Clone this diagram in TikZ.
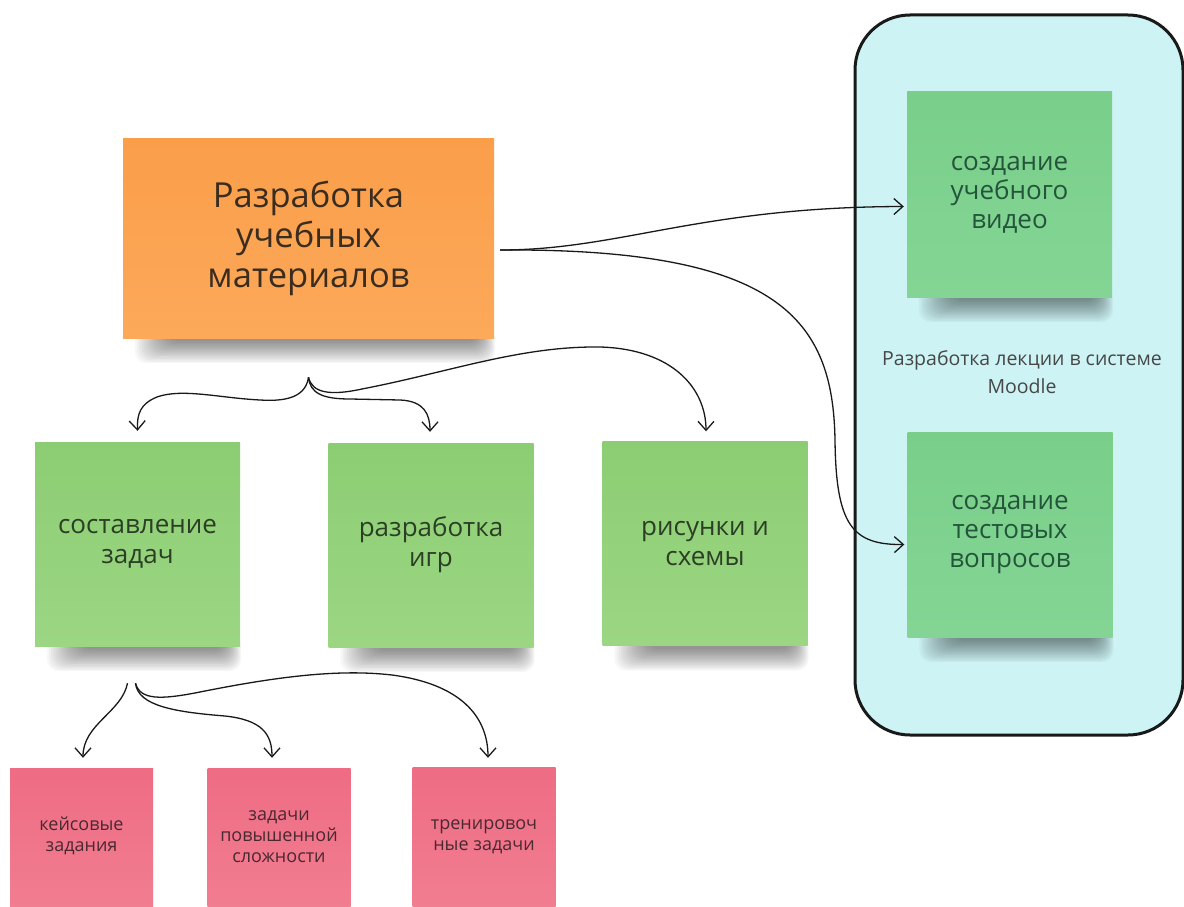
\documentclass[tikz,border=0pt]{standalone}
\usepackage{fontspec}
\setmainfont{Open Sans}
\usetikzlibrary{arrows.meta,calc,backgrounds}

\definecolor{orangenote}{HTML}{FA9E4A}
\definecolor{orangelow}{HTML}{FCA95A}
\definecolor{greennote}{HTML}{8CCD73}
\definecolor{greenlow}{HTML}{9CD683}
\definecolor{mintnote}{HTML}{79CF89}
\definecolor{mintlow}{HTML}{84D595}
\definecolor{pinknote}{HTML}{EE6C84}
\definecolor{pinklow}{HTML}{F28294}
\definecolor{panelfill}{HTML}{CDF3F4}
\definecolor{inkorange}{HTML}{3A2C1E}
\definecolor{inkgreen}{HTML}{2A3F24}
\definecolor{inkmint}{HTML}{23553A}
\definecolor{inkpink}{HTML}{4A2830}

\pgfdeclarelayer{shade}
\pgfsetlayers{background,shade,main}

% soft shadow under the lower edge of a sticky note
\newcommand\noteshadow[1]{%
  \foreach \k in {0,...,15}{%
    \fill[black,opacity=0.03,rounded corners=12pt]
      ($(#1.south west)+(12+\k*2.2,-10)$) rectangle
      ($(#1.south east)+(1-\k*1.1,25-\k*1.45)$);
  }}

\tikzset{
  sticky/.style={draw=none, inner sep=0pt, align=center},
  bignote/.style={sticky, minimum width=371pt, minimum height=200pt,
    top color=orangenote, bottom color=orangelow, text=inkorange,
    font=\fontsize{34.5}{40}\selectfont},
  greenbox/.style={sticky, minimum width=205pt, minimum height=204pt,
    top color=greennote, bottom color=greenlow, text=inkgreen,
    font=\fontsize{26}{30}\selectfont},
  mintbox/.style={sticky, minimum width=205pt, minimum height=205pt,
    top color=mintnote, bottom color=mintlow, text=inkmint,
    font=\fontsize{26}{29}\selectfont},
  pinkbox/.style={sticky, minimum width=143pt, minimum height=180pt,
    top color=pinknote, bottom color=pinklow},
  pinktext/.style={align=center, inner sep=0pt, text=inkpink,
    font=\fontsize{18}{21}\selectfont},
  link/.style={line width=1.3pt, draw=black!90,
    -{Straight Barb[length=9pt,width=16pt,line width=1.3pt]}}
}

\begin{document}
\begin{tikzpicture}[x=1pt,y=-1pt]
\useasboundingbox (0,0) rectangle (1184,907);
\clip (0,0) rectangle (1184,907);

\begin{pgfonlayer}{background}
  \fill[white] (0,0) rectangle (1184,907);
  % container on the right
  \node[draw=black!90, line width=3pt, fill=panelfill, rounded corners=55pt,
        minimum width=328pt, minimum height=720pt, inner sep=0pt]
        (panel) at (1019,375) {};
\end{pgfonlayer}
\node[text=black!72, align=center, font=\fontsize{19.5}{28}\selectfont]
      (moodle) at (1022,372) {Разработка лекции в системе\\Moodle};

% sticky notes
\node[bignote]  (main)  at (308.5,238) {Разработка\\учебных\\материалов};
\node[greenbox] (tasks) at (137.5,544) {составление\\задач};
\node[greenbox] (games) at (431,545)   {разработка\\игр};
\node[greenbox] (pics)  at (705,543.5) {рисунки и\\схемы};
\node[mintbox]  (video) at (1009.5,194.5) {создание\\учебного\\видео};
\node[mintbox]  (quiz)  at (1010,534.5)   {создание\\тестовых\\вопросов};
\node[pinkbox]  (cases) at (81.5,858)  {};
\node[pinkbox]  (hard)  at (279,858)   {};
\node[pinkbox]  (drill) at (484,857)   {};
\node[pinktext] (casesT) at (81.5,836)  {кейсовые\\задания};
\node[pinktext] (hardT)  at (279,837)   {задачи\\повышенной\\сложности};
\node[pinktext] (drillT) at (484,837)   {тренировоч\\ные задачи};

\begin{pgfonlayer}{shade}
  \foreach \n in {main,tasks,games,pics,video,quiz}{\noteshadow{\n}}
\end{pgfonlayer}

% branch points of the connectors
\coordinate (mainout) at ($(main.east)+(6,12)$);
\coordinate (fork)    at ($(main.south)+(0,39)$);
\coordinate (forkL)   at ($(tasks.south)+(-10,37)$);
\coordinate (forkR)   at ($(tasks.south)+(-2,37)$);

% from the orange note to the Moodle notes
\draw[link] (mainout) .. controls (620,250) and (700,207) .. ($(video.west)+(-3,12)$);
\draw[link] (mainout) .. controls (780,248) and (833,320) .. (835,440)
            .. controls (836,525) and (852,545) .. ($(quiz.west)+(-3,10)$);

% brace-shaped split towards the green notes
\draw[link] (fork) .. controls (306,395) and (290,402) .. (260,400)
            .. controls (220,398) and (182,388) .. (157,397)
            .. controls (140,404) and (137,414) .. ($(tasks.north)+(0,-11)$);
\draw[link] (fork) .. controls (310,393) and (322,399) .. (350,399)
            -- (400,400) .. controls (424,401) and (430,414) .. ($(games.north)+(-1,-11)$);
\draw[link] (fork) .. controls (312,393) and (330,396) .. (362,389)
            .. controls (450,372) and (520,346) .. (600,347)
            .. controls (672,349) and (706,388) .. ($(pics.north)+(1,-10)$);

% split towards the pink notes
\draw[link] (forkL) .. controls (122,712) and (83,724) .. ($(cases.north)+(1.5,-10)$);
\draw[link] (forkR) .. controls (138,706) and (175,712) .. (225,716)
            .. controls (262,720) and (272,734) .. ($(hard.north)+(-7,-10)$);
\draw[link] (forkR) .. controls (140,700) and (160,700) .. (200,692)
            .. controls (280,676) and (340,669) .. (392,675)
            .. controls (460,684) and (488,716) .. ($(drill.north)+(4,-9)$);
\end{tikzpicture}
\end{document}
